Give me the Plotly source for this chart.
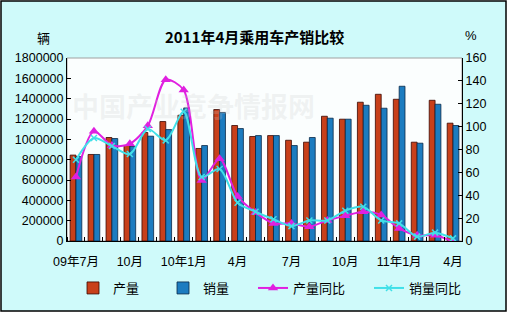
import plotly.graph_objects as go

# Monthly passenger-car production and sales, Jul 2009 - Apr 2011
months = ["2009-07", "2009-08", "2009-09", "2009-10", "2009-11", "2009-12",
          "2010-01", "2010-02", "2010-03", "2010-04", "2010-05", "2010-06",
          "2010-07", "2010-08", "2010-09", "2010-10", "2010-11", "2010-12",
          "2011-01", "2011-02", "2011-03", "2011-04"]
production = [845000, 851000, 1018000, 940000, 1067000, 1175000,
              1237000, 910000, 1293000, 1136000, 1028000, 1037000,
              991000, 972000, 1227000, 1198000, 1365000, 1443000,
              1394000, 972000, 1384000, 1159000]
sales = [830000, 851000, 1008000, 930000, 1031000, 1096000,
         1309000, 939000, 1263000, 1106000, 1037000, 1037000,
         939000, 1018000, 1208000, 1198000, 1335000, 1306000,
         1522000, 962000, 1345000, 1136000]
production_yoy = [56, 96, 83.5, 85, 100.7, 141, 132, 53, 72, 39, 25,
                  15.4, 15.4, 12.5, 18, 22, 25.6, 22.7, 11, 5, 5, -0.5]
sales_yoy = [71, 90, 83, 76, 98, 88, 113, 56, 63, 33.5, 25.6,
             19, 13, 18, 18, 26.5, 30, 18, 15.4, 3.8, 7.3, 2.3]

tick_positions = [0, 3, 6, 9, 12, 15, 18, 21]
tick_labels = ["09年7月", "10月", "10年1月", "4月", "7月", "10月", "11年1月", "4月"]

title_text = "2011年4月乘用车产销比较"
left_unit = "辆"
right_unit = "%"
watermark = "中国产业竞争情报网"

x = list(range(len(months)))

W, H = 508, 333
L, R, T, B = 67, 46, 58, 92
pw, ph = W - L - R, H - T - B


def px_x(p):
    return (p - L) / pw


def px_y(p):
    return (H - B - p) / ph


font_lat = "Liberation Sans, Arial, Noto Sans CJK SC, sans-serif"
font_cjk = "Noto Sans CJK SC, Liberation Sans, sans-serif"

fig = go.Figure()
fig.add_trace(go.Bar(
    x=x, y=production, name="产量", legend="legend",
    marker=dict(color="#C8401A", line=dict(color="#3A0800", width=0.8)),
))
fig.add_trace(go.Bar(
    x=x, y=sales, name="销量", legend="legend2",
    marker=dict(color="#1C7CC0", line=dict(color="#0A2848", width=0.8)),
))
fig.add_trace(go.Scatter(
    x=x, y=production_yoy, name="产量同比", yaxis="y2", legend="legend3",
    mode="lines+markers", line=dict(color="#E020E0", width=2, shape="spline", smoothing=0.8),
    marker=dict(symbol="triangle-up", size=9, color="#E020E0"),
))
fig.add_trace(go.Scatter(
    x=x, y=sales_yoy, name="销量同比", yaxis="y2", legend="legend4",
    mode="lines+markers", line=dict(color="#40E0E8", width=2, shape="spline", smoothing=0.8),
    marker=dict(symbol="x-thin", size=6, color="#40E0E8", line=dict(color="#40E0E8", width=1.5)),
))

legend_common = dict(orientation="h", yanchor="middle", y=px_y(288), xanchor="left",
                     bgcolor="rgba(0,0,0,0)", font=dict(family=font_cjk, size=13, color="#000"))

fig.update_layout(
    width=W, height=H,
    margin=dict(l=L, r=R, t=T, b=B),
    paper_bgcolor="white",
    plot_bgcolor="rgba(0,0,0,0)",
    barmode="group", bargap=0.35, bargroupgap=0.0,
    showlegend=True,
    legend=dict(legend_common, x=px_x(73)),
    legend2=dict(legend_common, x=px_x(163)),
    legend3=dict(legend_common, x=px_x(253)),
    legend4=dict(legend_common, x=px_x(369)),
    xaxis=dict(
        range=[-0.5, len(months) - 0.5], tickvals=tick_positions, ticktext=tick_labels,
        ticks="", showgrid=False, zeroline=False, ticklabelstandoff=9,
        showline=True, linecolor="#000", linewidth=1,
        tickfont=dict(family=font_lat, size=12.5, color="#000"),
        minor=dict(ticks="inside", tick0=-0.5, dtick=1, ticklen=4, tickcolor="#000", showgrid=False),
    ),
    yaxis=dict(
        range=[0, 1800000], dtick=200000, tickformat="d",
        ticks="inside", ticklen=4, tickcolor="#000", showgrid=False, zeroline=False,
        showline=True, linecolor="#000", linewidth=1,
        tickfont=dict(family=font_lat, size=12.5, color="#000"),
    ),
    yaxis2=dict(
        range=[0, 160], dtick=20, overlaying="y", side="right",
        ticks="inside", ticklen=4, tickcolor="#000", showgrid=False, zeroline=False,
        showline=True, linecolor="#000", linewidth=1,
        tickfont=dict(family=font_lat, size=12.5, color="#000"),
    ),
    shapes=[
        # chart frame with pale cyan fill
        dict(type="rect", xref="paper", yref="paper", layer="below",
             x0=px_x(1), x1=px_x(506), y0=px_y(311), y1=px_y(1),
             fillcolor="#CFFAFA", line=dict(color="#000", width=1.5)),
        # plot area
        dict(type="rect", xref="paper", yref="paper", layer="below",
             x0=0, x1=1, y0=0, y1=1,
             fillcolor="#FBFEFE", line=dict(color="#A0A0A0", width=1)),
    ],
    annotations=[
        dict(text=title_text, xref="paper", yref="paper", x=px_x(254), y=px_y(24),
             showarrow=False, font=dict(family=font_cjk, size=15, color="#000", weight="bold")),
        dict(text=left_unit, xref="paper", yref="paper", x=px_x(35), y=px_y(26),
             showarrow=False, font=dict(family=font_cjk, size=13, color="#000")),
        dict(text=right_unit, xref="paper", yref="paper", x=px_x(479), y=px_y(26),
             showarrow=False, font=dict(family=font_lat, size=13, color="#000")),
        dict(text=watermark, xref="paper", yref="paper", x=px_x(70), y=px_y(84), xanchor="left",
             showarrow=False, font=dict(family=font_cjk, size=27, color="rgba(200,200,200,0.22)",
                                        weight="bold")),
    ],
)

fig.write_html("out.html")
